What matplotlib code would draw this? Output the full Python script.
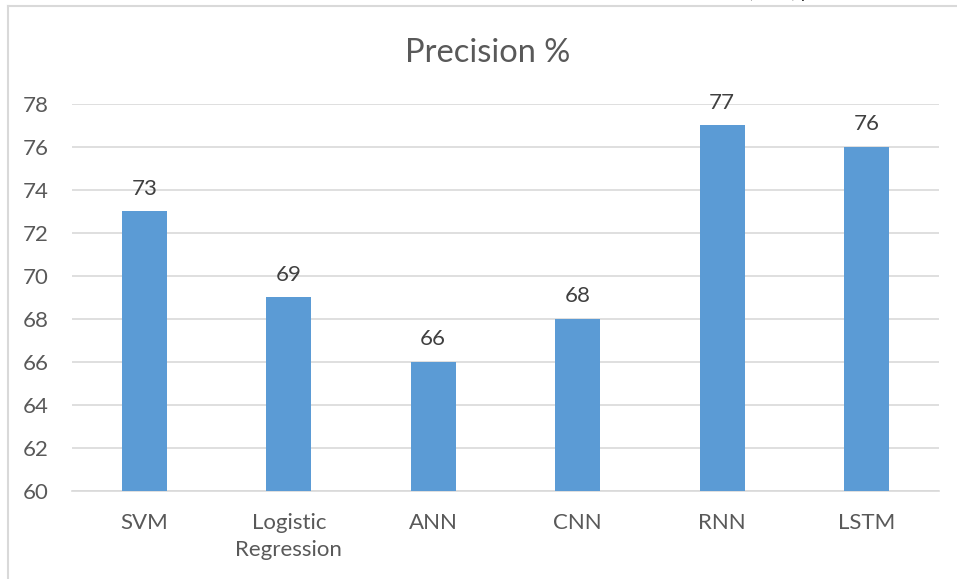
import matplotlib
matplotlib.use("Agg")
import matplotlib.pyplot as plt
from matplotlib.lines import Line2D

categories = ["SVM", "Logistic\nRegression", "ANN", "CNN", "RNN", "LSTM"]
values = [73, 69, 66, 68, 77, 76]
yticks = [60, 62, 64, 66, 68, 70, 72, 74, 76, 78]
title = "Precision %"

plt.rcParams['font.family'] = ['Lato', 'DejaVu Sans']
txt = '#595959'
grid = '#D9D9D9'

W, H = 957, 579
fig = plt.figure(figsize=(W/100, H/100), dpi=100)
ax = fig.add_axes([72/W, 1-491/H, (939-72)/W, (491-104)/H])

x = list(range(len(categories)))
bars = ax.bar(x, [v - 60 for v in values], bottom=60, width=0.31, color='#5B9BD5', zorder=3)
ax.set_xlim(-0.5, len(categories) - 0.5)
ax.set_ylim(60, 78)
ax.set_yticks(yticks)
ax.set_yticklabels([str(t) for t in yticks], fontsize=16, color=txt)
ax.set_xticks(x)
ax.set_xticklabels(categories, fontsize=16, color=txt, linespacing=1.45, va='top')
ax.tick_params(axis='both', length=0)
ax.tick_params(axis='y', pad=17)
ax.tick_params(axis='x', pad=16)
ax.grid(axis='y', color=grid, linewidth=1.2, zorder=0)
for s in ['top', 'right', 'left']:
    ax.spines[s].set_visible(False)
ax.spines['bottom'].set_color(grid)
ax.spines['bottom'].set_linewidth(1.2)

for xi, v in zip(x, values):
    ax.annotate(str(v), (xi, v), xytext=(0, 9), textcoords='offset points',
                ha='center', va='bottom', fontsize=16, color='#404040')

fig.text(488/W, 1-53/H, title, ha='center', va='center', fontsize=23.5, color=txt)

# chart border
fig.add_artist(Line2D([8/W, 8/W], [0, 1-5.5/H], color=grid, linewidth=1.5, transform=fig.transFigure))
fig.add_artist(Line2D([8/W, 1], [1-5.5/H, 1-5.5/H], color=grid, linewidth=1.5, transform=fig.transFigure))

# cropped text from above the chart
fig.text(748/W, 1+2/H, "(RNN) p", ha='left', va='baseline', fontsize=13, color='#222222')

fig.savefig("out.png", dpi=100)
